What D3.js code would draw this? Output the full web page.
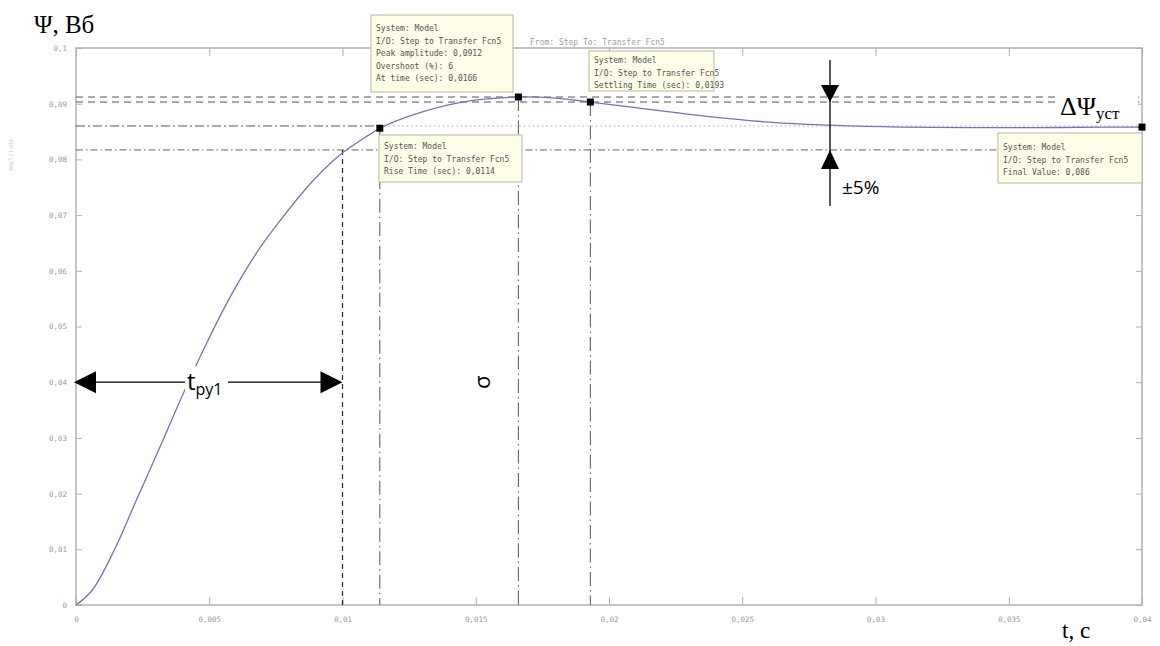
<!DOCTYPE html>
<html><head><meta charset="utf-8">
<script src="https://cdn.jsdelivr.net/npm/d3@7"></script>
<style>body{margin:0;background:#fff}svg{display:block}</style>
</head><body>
<script>
// ---- data ----
const timeS = [0, 0.0006, 0.0014, 0.0023, 0.0032, 0.0040, 0.0049, 0.0059, 0.0069, 0.0079, 0.0089, 0.0099, 0.0110, 0.0114, 0.0127, 0.0145, 0.0166, 0.0180, 0.0193, 0.0210, 0.0235, 0.0260, 0.0285, 0.0310, 0.0335, 0.0360, 0.0385, 0.0400];
const psi   = [0, 0.0026, 0.0095, 0.0192, 0.0289, 0.0377, 0.0470, 0.0563, 0.0641, 0.0705, 0.0762, 0.0808, 0.0844, 0.0856, 0.0881, 0.0903, 0.0912, 0.0910, 0.0903, 0.0893, 0.0878, 0.0867, 0.0861, 0.0858, 0.0857, 0.0857, 0.0858, 0.0858];
const xTicks = [0, 0.005, 0.01, 0.015, 0.02, 0.025, 0.03, 0.035, 0.04];
const yTicks = [0, 0.01, 0.02, 0.03, 0.04, 0.05, 0.06, 0.07, 0.08, 0.09, 0.1];
const markerNames = ["rise", "peak", "settle", "final"];
const markerT = [0.0114, 0.0166, 0.0193, 0.04];
const markerY = [0.0856, 0.0912, 0.0903, 0.0858];
const finalValue = 0.086;
const bandUpper = 0.0903, bandLower = 0.0817, peakValue = 0.0912;
const tRu1 = 0.01;
const arrowLevel = 0.04;
const boxTexts = {
  peak: ["System: Model", "I/O: Step to Transfer Fcn5", "Peak amplitude: 0,0912", "Overshoot (%): 6", "At time (sec): 0,0166"],
  rise: ["System: Model", "I/O: Step to Transfer Fcn5", "Rise Time (sec): 0,0114"],
  settle: ["System: Model", "I/O: Step to Transfer Fcn5", "Settling Time (sec): 0,0193"],
  final: ["System: Model", "I/O: Step to Transfer Fcn5", "Final Value: 0,086"]
};

// ---- drawing ----
const W = 1160, H = 646;
const svg = d3.select("body").append("svg").attr("width", W).attr("height", H);
const x = d3.scaleLinear().domain([0, 0.04]).range([76, 1142]);
const y = d3.scaleLinear().domain([0, 0.1]).range([605, 48]);
const loc = d3.formatLocale({decimal: ",", thousands: " ", grouping: [3], currency: ["", ""]});
const fmt = v => v === 0 ? "0" : loc.format("~g")(v);

const axisCol = "#c4c4c4", tickTxt = "#9a9a9a";
svg.append("rect").attr("x", x(0)).attr("y", y(0.1)).attr("width", x(0.04) - x(0)).attr("height", y(0) - y(0.1))
  .attr("fill", "none").attr("stroke", axisCol).attr("stroke-width", 2);

function styleAxis(g) {
  g.select(".domain").remove();
  g.selectAll(".tick line").attr("stroke", "#b0b0b0");
  g.selectAll(".tick text").attr("fill", tickTxt).style("font-family", "DejaVu Sans Mono").style("font-size", "7.5px");
}
svg.append("g").attr("transform", `translate(0,${y(0)})`)
  .call(d3.axisBottom(x).tickValues(xTicks).tickFormat(fmt).tickSizeInner(-8).tickPadding(12)).call(styleAxis);
svg.append("g").attr("transform", `translate(0,${y(0.1)})`)
  .call(d3.axisTop(x).tickValues(xTicks).tickFormat("").tickSizeInner(-8)).call(styleAxis);
svg.append("g").attr("transform", `translate(${x(0)},0)`)
  .call(d3.axisLeft(y).tickValues(yTicks).tickFormat(fmt).tickSizeInner(-6).tickPadding(9)).call(styleAxis);
svg.append("g").attr("transform", `translate(${x(0.04)},0)`)
  .call(d3.axisRight(y).tickValues(yTicks).tickFormat("").tickSizeInner(-6)).call(styleAxis);

// title & faint y label
svg.append("text").attr("x", 530).attr("y", 45)
  .attr("fill", "#a0a0a0").style("font-family", "DejaVu Sans Mono").style("font-size", "8px")
  .text("From: Step  To: Transfer Fcn5");
svg.append("text").attr("transform", "translate(13,155) rotate(-90)").attr("text-anchor", "middle")
  .attr("fill", "#cfcfcf").style("font-family", "DejaVu Sans Mono").style("font-size", "6px").text("Amplitude");

// horizontal reference lines
const hl = (v, x0, x1, dash, col, w) => svg.append("line").attr("x1", x(x0)).attr("x2", x(x1))
  .attr("y1", y(v)).attr("y2", y(v)).attr("stroke", col).attr("stroke-width", w || 1).attr("stroke-dasharray", dash);
hl(peakValue, 0, 0.04, "7,5", "#555");
hl(bandUpper, 0, 0.04, "7,5", "#555");
hl(bandLower, 0, 0.04, "7,3,1.5,3", "#666");
hl(finalValue, 0, markerT[0], "9,3,2,3", "#555");
hl(finalValue, markerT[0], 0.04, "1.5,3", "#aaa");

// vertical reference lines
const vl = (t, v, dash, col, w) => svg.append("line").attr("x1", x(t)).attr("x2", x(t))
  .attr("y1", y(v)).attr("y2", y(0)).attr("stroke", col).attr("stroke-width", w || 1).attr("stroke-dasharray", dash);
vl(tRu1, bandLower, "5,4", "#222", 1.2);
vl(markerT[0], markerY[0], "14,4,1.5,4", "#555");
vl(markerT[1], markerY[1], "14,4,1.5,4", "#555");
vl(markerT[2], markerY[2], "14,4,1.5,4", "#555");

// response curve
svg.append("path").datum(timeS.map((t, i) => [t, psi[i]]))
  .attr("d", d3.line().x(d => x(d[0])).y(d => y(d[1])).curve(d3.curveCatmullRom.alpha(0.5)))
  .attr("fill", "none").attr("stroke", "#7373b8").attr("stroke-width", 1.3);

// markers
svg.selectAll("rect.mk").data(markerT).enter().append("rect").attr("class", "mk")
  .attr("x", d => x(d) - 3.5).attr("y", (d, i) => y(markerY[i]) - 3.5).attr("width", 7).attr("height", 7).attr("fill", "#000");

// data tip boxes
function tipBox(lines, bx, by, bw, bh, ty) {
  const g = svg.append("g");
  g.append("rect").attr("x", bx).attr("y", by).attr("width", bw).attr("height", bh)
    .attr("fill", "#fdfde8").attr("stroke", "#b8b8a0").attr("stroke-width", 1);
  g.selectAll("text").data(lines).enter().append("text").attr("x", bx + 5).attr("y", (d, i) => ty + i * 12.5)
    .attr("fill", "#555").style("font-family", "DejaVu Sans Mono").style("font-size", "8px").text(d => d);
}
tipBox(boxTexts.peak, 371, 15, 142, 77, 31);
tipBox(boxTexts.rise, 379, 135, 143, 47, 149);
tipBox(boxTexts.settle, 589, 51, 125, 40, 63);
tipBox(boxTexts.final, 998, 133, 144, 50, 150);

// ---- overlaid annotations ----
const serif = "Liberation Serif", sans = "Open Sans";
svg.append("text").attr("x", 34).attr("y", 33).style("font-family", serif).style("font-size", "25px").text("Ψ, Вб");
svg.append("text").attr("x", 1062).attr("y", 638).style("font-family", serif).style("font-size", "23px").text("t, с");

// ΔΨуст
svg.append("rect").attr("x", 1058).attr("y", 91).attr("width", 80).attr("height", 30).attr("fill", "#fff");
const dp = svg.append("text").attr("x", 1060).attr("y", 115).style("font-family", serif).style("font-size", "26px");
dp.append("tspan").text("ΔΨ");
dp.append("tspan").attr("dy", 4).style("font-size", "17px").text("уст");

// ±5% arrows
const ax = 830;
svg.append("line").attr("x1", ax).attr("x2", ax).attr("y1", 60).attr("y2", 206).attr("stroke", "#000").attr("stroke-width", 1.3);
svg.append("path").attr("d", `M${ax - 9},${y(bandUpper) - 17}L${ax + 9},${y(bandUpper) - 17}L${ax},${y(bandUpper)}Z`).attr("fill", "#000");
svg.append("path").attr("d", `M${ax - 9},${y(bandLower) + 19}L${ax + 9},${y(bandLower) + 19}L${ax},${y(bandLower)}Z`).attr("fill", "#000");
svg.append("text").attr("x", 842).attr("y", 194).style("font-family", sans).style("font-size", "19px").text("±5%");

// t_ру1 arrow
const ay = y(arrowLevel);
svg.append("line").attr("x1", x(0) + 10).attr("x2", x(tRu1) - 10).attr("y1", ay).attr("y2", ay).attr("stroke", "#000").attr("stroke-width", 1.3);
svg.append("path").attr("d", `M${x(0) - 2},${ay}L${x(0) + 20},${ay - 11}L${x(0) + 20},${ay + 11}Z`).attr("fill", "#000");
svg.append("path").attr("d", `M${x(tRu1)},${ay}L${x(tRu1) - 22},${ay - 11}L${x(tRu1) - 22},${ay + 11}Z`).attr("fill", "#000");
svg.append("rect").attr("x", 185).attr("y", ay - 16).attr("width", 43).attr("height", 30).attr("fill", "#fff");
const tr = svg.append("text").attr("x", 187).attr("y", ay + 8).style("font-family", sans).style("font-size", "24px");
tr.append("tspan").text("t");
tr.append("tspan").attr("dy", 5).style("font-size", "16px").text("ру1");

// sigma (rotated)
svg.append("text").attr("transform", `translate(490,${ay}) rotate(-90)`).attr("text-anchor", "middle")
  .style("font-family", sans).style("font-size", "22px").text("σ");
</script>
</body></html>
